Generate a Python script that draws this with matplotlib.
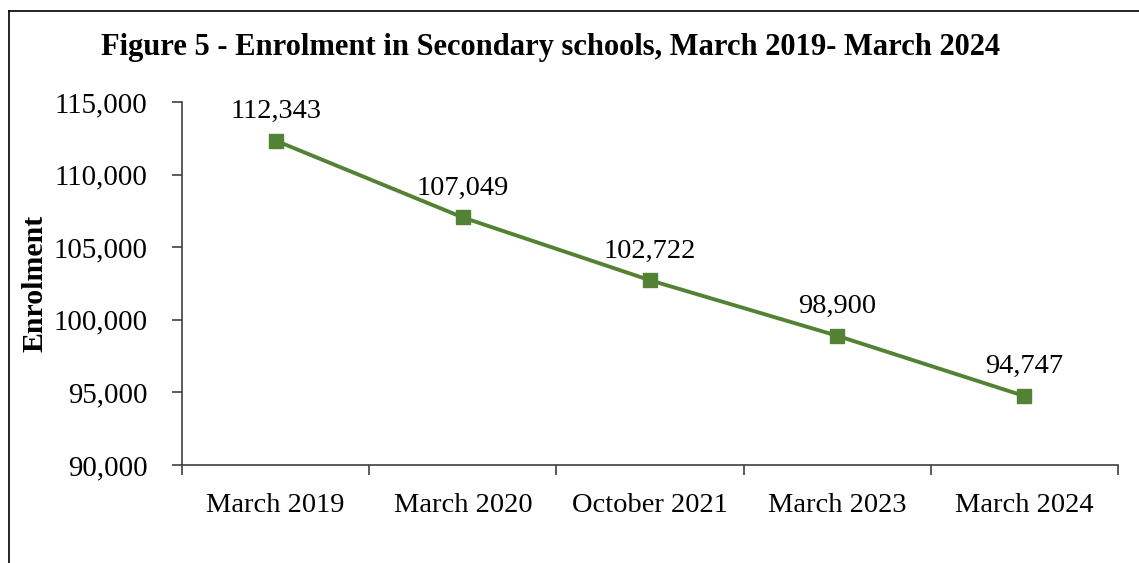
import numpy as np
import matplotlib.pyplot as plt
from matplotlib.lines import Line2D

periods = ['March 2019', 'March 2020', 'October 2021', 'March 2023', 'March 2024']
enrolment = [112343, 107049, 102722, 98900, 94747]
yticks = [90000, 95000, 100000, 105000, 110000, 115000]

plt.rcParams['font.family'] = ['Liberation Serif', 'DejaVu Serif']

fig = plt.figure(figsize=(11.39, 5.63), dpi=100)
ax = fig.add_axes([0.1598, 0.1741, 0.8218, 0.6447])

green = '#548235'
x = np.arange(len(periods))
ax.plot(x, enrolment, color=green, lw=2.8, marker='s', ms=10, zorder=3)
for xi, v in zip(x, enrolment):
    ax.annotate(f'{v:,}', (xi, v), xytext=(0, 12), textcoords='offset points',
                ha='center', va='bottom', fontsize=20.5)

ax.set_xlim(-0.5, len(periods) - 0.5)
ax.set_ylim(90000, 115000)
ax.set_yticks(yticks)
ax.set_yticklabels([f'{t:,}' for t in yticks])
ax.set_xticks(x)
ax.set_xticklabels(periods)
ax.set_xticks(np.arange(-0.5, len(periods)), minor=True)
ax.tick_params(axis='x', which='major', length=0, pad=20, labelsize=20.5)
ax.tick_params(axis='x', which='minor', length=7, width=1.2, direction='out', color='#404040')
ax.tick_params(axis='y', length=7, width=1.2, direction='out', color='#404040', labelsize=20.8, pad=18)

for s in ['top', 'right']:
    ax.spines[s].set_visible(False)
for s in ['left', 'bottom']:
    ax.spines[s].set_color('#404040')
    ax.spines[s].set_linewidth(1.2)

fig.text(0.031, 0.497, 'Enrolment', rotation=90, ha='center', va='center',
         fontsize=21.5, fontweight='bold')
fig.text(0.483, 0.915, 'Figure 5 - Enrolment in Secondary schools, March 2019- March 2024',
         ha='center', va='center', fontsize=22, fontweight='bold')

# outer frame (left and top edges)
fig.add_artist(Line2D([0.0075, 0.0075], [0.0, 0.98], transform=fig.transFigure, color='black', lw=1.2))
fig.add_artist(Line2D([0.0075, 1.0], [0.98, 0.98], transform=fig.transFigure, color='black', lw=1.2))

fig.savefig('out.png', dpi=100)
